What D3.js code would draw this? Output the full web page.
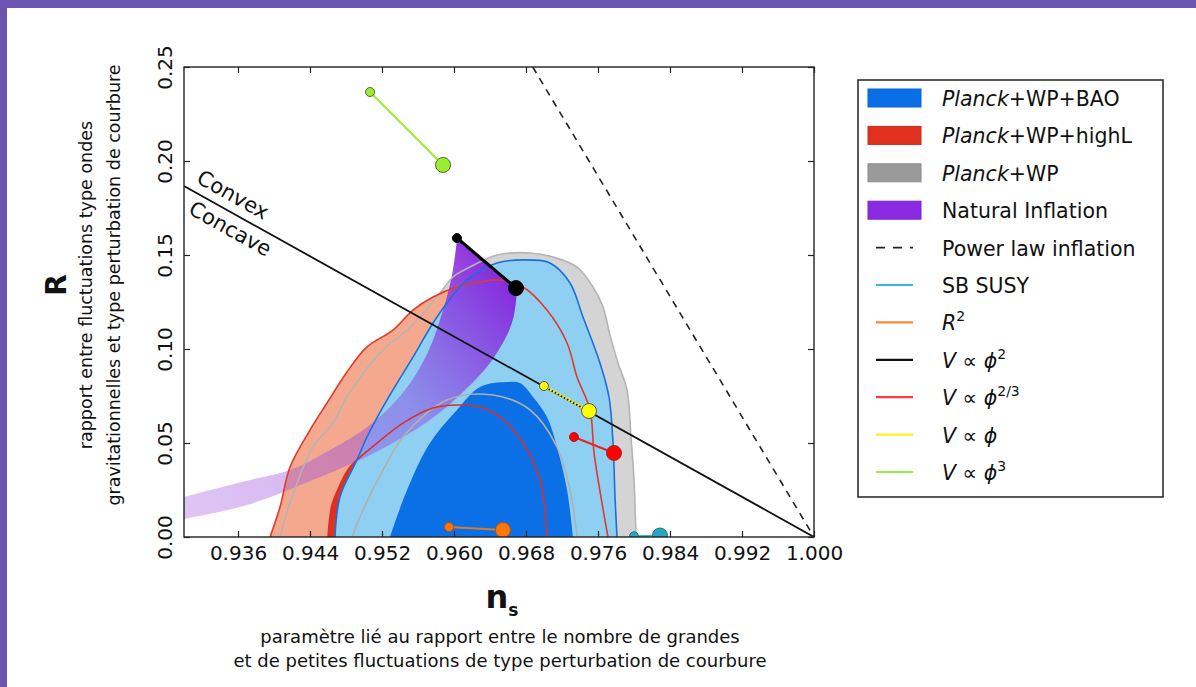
<!DOCTYPE html>
<html>
<head>
<meta charset="utf-8">
<script src="https://cdn.jsdelivr.net/npm/d3@7"></script>
<style>
body { margin: 0; background: #fff; }
svg { display: block; }
</style>
</head>
<body>
<script>
// values, as [n_s, r]
var xTicks = [0.936, 0.944, 0.952, 0.960, 0.968, 0.976, 0.984, 0.992, 1.000];
var yTicks = [0, 0.05, 0.10, 0.15, 0.20, 0.25];

var planckWP95 = [[0.94067, 0], [0.94178, 0.0181], [0.94433, 0.0479], [0.94656, 0.0606], [0.94811, 0.0745],
    [0.95178, 0.0979], [0.95478, 0.1101], [0.95622, 0.117], [0.95844, 0.1298], [0.95989, 0.1383],
    [0.96178, 0.1436], [0.96478, 0.150], [0.96844, 0.1511], [0.971, 0.1489], [0.97367, 0.1436],
    [0.97544, 0.133], [0.97656, 0.1223], [0.97733, 0.1074], [0.97822, 0.0926], [0.97922, 0.0782],
    [0.97967, 0.0532], [0.980, 0.0303], [0.98022, 0]];
var planckWP68 = [[0.94867, 0], [0.94989, 0.0144], [0.95211, 0.0356], [0.95433, 0.0532], [0.95922, 0.0729],
    [0.96433, 0.0755], [0.96844, 0.0676], [0.97144, 0.0479], [0.97289, 0.025], [0.97367, 0]];
var highL95 = [[0.93956, 0], [0.94067, 0.016], [0.94178, 0.0372], [0.944, 0.0569], [0.94589, 0.0713],
    [0.94811, 0.0878], [0.95033, 0.1011], [0.95322, 0.1101], [0.95544, 0.1207], [0.95767, 0.1277],
    [0.96033, 0.133], [0.96289, 0.1356], [0.96511, 0.1367], [0.96767, 0.133], [0.97033, 0.1207],
    [0.97256, 0.1032], [0.97367, 0.0851], [0.97511, 0.0676], [0.97556, 0.0447], [0.97644, 0.0181],
    [0.97711, 0]];
var highL68 = [[0.946, 0], [0.94644, 0.017], [0.94733, 0.0277], [0.94844, 0.0372], [0.95144, 0.0499],
    [0.95433, 0.0606], [0.95767, 0.0686], [0.96033, 0.0702], [0.96289, 0.0691], [0.96511, 0.0638],
    [0.96767, 0.050], [0.96956, 0.0303], [0.97033, 0]];
var bao95 = [[0.94678, 0], [0.94733, 0.0213], [0.94922, 0.041], [0.95033, 0.0532], [0.95256, 0.0729],
    [0.95544, 0.0957], [0.95767, 0.1138], [0.95922, 0.1245], [0.96144, 0.1367], [0.96478, 0.1457],
    [0.96878, 0.1473], [0.97067, 0.1457], [0.97289, 0.1351], [0.97433, 0.117], [0.97622, 0.0926],
    [0.97722, 0.0745], [0.97767, 0.050], [0.97789, 0.0213], [0.97811, 0]];
var bao68 = [[0.95289, 0], [0.95478, 0.025], [0.95733, 0.050], [0.96033, 0.0676], [0.96289, 0.0798],
    [0.96589, 0.0824], [0.96733, 0.0819], [0.96878, 0.0745], [0.97033, 0.0638], [0.97144, 0.0479],
    [0.97256, 0.025], [0.97322, 0]];
// natural inflation band: upper edge (left to top), lower edge (left to top)
var naturalUpper = [[0.930, 0.0213], [0.93733, 0.0303], [0.94178, 0.0356], [0.94622, 0.0463], [0.95067, 0.0596],
    [0.95456, 0.0782], [0.95711, 0.0984], [0.95878, 0.1207], [0.95978, 0.1394], [0.96033, 0.158]];
var naturalLower = [[0.930, 0.0096], [0.937, 0.017], [0.94433, 0.0303], [0.95178, 0.0463], [0.95733, 0.0622],
    [0.961, 0.0771], [0.964, 0.0926], [0.96589, 0.1074], [0.96667, 0.1181], [0.967, 0.1314]];

var convexLine = [[0.93, 0.18667], [1.0, 0]];
var powerLaw = [[0.96875, 0.25], [1.0, 0]];

// model predictions: [small point, big point]
var phi3Pts = [[0.95067, 0.2367], [0.95878, 0.1979]];
var phi2Pts = [[0.96033, 0.159], [0.96689, 0.1324]];
var phiPts = [[0.970, 0.0803], [0.975, 0.067]];
var phi23Pts = [[0.97333, 0.0532], [0.97778, 0.0447]];
var r2Pts = [[0.95944, 0.0053], [0.96544, 0.0037]];
var susyPts = [[0.9800, 0.0004], [0.98289, 0.0008]];

var W = 1196, H = 687;
var x = d3.scaleLinear().domain([0.93, 1.0]).range([184, 814]);
var y = d3.scaleLinear().domain([0, 0.25]).range([537, 67]);

var svg = d3.select("body").append("svg").attr("width", W).attr("height", H);
svg.append("rect").attr("width", W).attr("height", H).attr("fill", "#fff");
svg.append("rect").attr("width", W).attr("height", 8).attr("fill", "#6a55b0");
svg.append("rect").attr("width", 7).attr("height", H).attr("fill", "#6a55b0");

var defs = svg.append("defs");
defs.append("clipPath").attr("id", "plot")
    .append("rect").attr("x", x(0.93)).attr("y", y(0.25))
    .attr("width", x(1.0) - x(0.93)).attr("height", y(0) - y(0.25));
var grad = defs.append("linearGradient").attr("id", "natgrad")
    .attr("gradientUnits", "userSpaceOnUse")
    .attr("x1", x(0.93)).attr("y1", y(0.015))
    .attr("x2", x(0.964)).attr("y2", y(0.15));
grad.append("stop").attr("offset", 0).attr("stop-color", "#a55ae0").attr("stop-opacity", 0.35);
grad.append("stop").attr("offset", 0.6).attr("stop-color", "#8a40e0").attr("stop-opacity", 0.45);
grad.append("stop").attr("offset", 1).attr("stop-color", "#8420dc").attr("stop-opacity", 0.95);

var curve = d3.line().x(function (d) { return x(d[0]); }).y(function (d) { return y(d[1]); })
    .curve(d3.curveCatmullRom.alpha(0.5));
var straight = d3.line().x(function (d) { return x(d[0]); }).y(function (d) { return y(d[1]); });

var plot = svg.append("g").attr("clip-path", "url(#plot)");

// filled contours
plot.append("path").attr("d", curve(planckWP95) + "Z").attr("fill", "#d4d4d4");
plot.append("path").attr("d", curve(highL95) + "Z").attr("fill", "#f4a98f");
plot.append("path").attr("d", curve(highL68) + "Z").attr("fill", "#e0301e");
plot.append("path").attr("d", curve(bao95) + "Z").attr("fill", "#8fd0f2");
plot.append("path").attr("d", curve(bao68) + "Z").attr("fill", "#0b6fe6");

// natural inflation band
var upperPath = curve(naturalUpper);
var lowerPath = curve(naturalLower.slice().reverse());
plot.append("path")
    .attr("d", upperPath + "L" + lowerPath.slice(1) + "Z")
    .attr("fill", "url(#natgrad)");

// contour lines
plot.append("path").attr("d", curve(planckWP95)).attr("fill", "none").attr("stroke", "#b4b4b4").attr("stroke-width", 1.6);
plot.append("path").attr("d", curve(planckWP68)).attr("fill", "none").attr("stroke", "#b0b0b0").attr("stroke-width", 1.6);
plot.append("path").attr("d", curve(highL95)).attr("fill", "none").attr("stroke", "#e03a2a").attr("stroke-width", 1.6);
plot.append("path").attr("d", curve(highL68)).attr("fill", "none").attr("stroke", "#d8302a").attr("stroke-width", 1.6);
plot.append("path").attr("d", curve(bao95)).attr("fill", "none").attr("stroke", "#1a6fe0").attr("stroke-width", 1.6);

// convex / concave boundary and power law
plot.append("path").attr("d", straight(convexLine)).attr("stroke", "#111").attr("stroke-width", 1.8).attr("fill", "none");
plot.append("path").attr("d", straight(powerLaw)).attr("stroke", "#222").attr("stroke-width", 1.6)
    .attr("stroke-dasharray", "7,6").attr("fill", "none");

// model segments and points
function model(pts, lineColor, fill, width, dash, edge) {
    var l = plot.append("path").attr("d", straight(pts)).attr("stroke", lineColor)
        .attr("stroke-width", width).attr("fill", "none");
    if (dash) l.attr("stroke-dasharray", dash);
    plot.append("circle").attr("cx", x(pts[0][0])).attr("cy", y(pts[0][1])).attr("r", 4.5)
        .attr("fill", fill).attr("stroke", edge).attr("stroke-width", 1);
    plot.append("circle").attr("cx", x(pts[1][0])).attr("cy", y(pts[1][1])).attr("r", 7.5)
        .attr("fill", fill).attr("stroke", edge).attr("stroke-width", 1);
}
model(phi3Pts, "#99ee33", "#99ee33", 2, null, "#556633");
model(phi2Pts, "#000", "#000", 3.2, null, "#000");
model(phiPts, "#ffee00", "#ffff00", 3, "2,1.5", "#555");
model(phi23Pts, "#ee2222", "#ff0000", 2, null, "#aa2222");
model(r2Pts, "#dd7733", "#ff7700", 2, null, "#aa5522");
model(susyPts, "#33bbcc", "#22a8c0", 2, null, "#227788");

// convex / concave labels
var ang = Math.atan2(y(convexLine[1][1]) - y(convexLine[0][1]), x(convexLine[1][0]) - x(convexLine[0][0])) * 180 / Math.PI;
var lab = plot.append("g")
    .attr("transform", "translate(" + x(convexLine[0][0]) + "," + y(convexLine[0][1]) + ") rotate(" + ang + ")")
    .style("font-family", "'DejaVu Sans', sans-serif").style("font-size", "21px").attr("fill", "#111");
lab.append("text").attr("x", 8).attr("y", -9).text("Convex");
lab.append("text").attr("x", 16).attr("y", 22).text("Concave");

// axes: inward ticks on all four sides
var fontTick = "'DejaVu Sans', sans-serif";
var gx = svg.append("g").attr("transform", "translate(0," + y(0) + ")")
    .call(d3.axisBottom(x).tickValues(xTicks).tickSizeInner(-6).tickSizeOuter(0)
        .tickPadding(9).tickFormat(d3.format(".3f")));
var gxt = svg.append("g").attr("transform", "translate(0," + y(0.25) + ")")
    .call(d3.axisTop(x).tickValues(xTicks).tickSizeInner(-6).tickSizeOuter(0).tickFormat(""));
var gy = svg.append("g").attr("transform", "translate(" + x(0.93) + ",0)")
    .call(d3.axisLeft(y).tickValues(yTicks).tickSizeInner(-6).tickSizeOuter(0).tickFormat(d3.format(".2f")));
var gyr = svg.append("g").attr("transform", "translate(" + x(1.0) + ",0)")
    .call(d3.axisRight(y).tickValues(yTicks).tickSizeInner(-6).tickSizeOuter(0).tickFormat(""));
[gx, gxt, gy, gyr].forEach(function (g) {
    g.select(".domain").remove();
    g.selectAll(".tick line").attr("stroke", "#222").attr("stroke-width", 1.2);
    g.selectAll("text").style("font-family", fontTick).style("font-size", "20px").attr("fill", "#111");
});
gy.selectAll(".tick text")
    .attr("transform", "rotate(-90)")
    .attr("x", 0).attr("y", -12).attr("dy", 0)
    .attr("text-anchor", "middle");

svg.append("rect").attr("x", x(0.93)).attr("y", y(0.25))
    .attr("width", x(1.0) - x(0.93)).attr("height", y(0) - y(0.25))
    .attr("fill", "none").attr("stroke", "#222").attr("stroke-width", 1.4);

// axis titles
var fontLab = "'DejaVu Sans', sans-serif";
var yl = svg.append("g").attr("transform", "translate(0,285)").style("font-family", fontLab).attr("fill", "#111");
yl.append("text").attr("transform", "translate(66,0) rotate(-90)").attr("text-anchor", "middle")
    .style("font-size", "28px").style("font-weight", "bold").text("R");
yl.append("text").attr("transform", "translate(92,0) rotate(-90)").attr("text-anchor", "middle")
    .style("font-size", "17.5px").text("rapport entre fluctuations type ondes");
yl.append("text").attr("transform", "translate(120,0) rotate(-90)").attr("text-anchor", "middle")
    .style("font-size", "17.5px").text("gravitationnelles et type perturbation de courbure");

var xl = svg.append("g").style("font-family", fontLab).attr("fill", "#111");
var ns = xl.append("text").attr("x", 502).attr("y", 608).attr("text-anchor", "middle").style("font-weight", "bold");
ns.append("tspan").style("font-size", "32px").text("n");
ns.append("tspan").attr("dy", 8).style("font-size", "17px").text("s");
xl.append("text").attr("x", 500).attr("y", 643).attr("text-anchor", "middle").style("font-size", "18px")
    .text("paramètre lié au rapport entre le nombre de grandes");
xl.append("text").attr("x", 500).attr("y", 667).attr("text-anchor", "middle").style("font-size", "18px")
    .text("et de petites fluctuations de type perturbation de courbure");

// legend
var legendLabels = [
    [["Planck", "italic"], ["+WP+BAO", "normal"]],
    [["Planck", "italic"], ["+WP+highL", "normal"]],
    [["Planck", "italic"], ["+WP", "normal"]],
    [["Natural Inflation", "normal"]],
    [["Power law inflation", "normal"]],
    [["SB SUSY", "normal"]],
    [["R", "italic"], ["2", "sup"]],
    [["V", "italic"], [" \u221D ", "normal"], ["\u03D5", "italic"], ["2", "sup"]],
    [["V", "italic"], [" \u221D ", "normal"], ["\u03D5", "italic"], ["2/3", "sup"]],
    [["V", "italic"], [" \u221D ", "normal"], ["\u03D5", "italic"]],
    [["V", "italic"], [" \u221D ", "normal"], ["\u03D5", "italic"], ["3", "sup"]]
];
var legendKinds = ["patch", "patch", "patch", "patch", "dash", "line", "line", "line", "line", "line", "line"];
var legendColors = ["#0a6ee6", "#e0301e", "#9a9a9a", "#8a2be2", "#222", "#33bbdd", "#ff8833", "#111", "#ff3b3b", "#ffee22", "#99ee44"];

var leg = svg.append("g");
leg.append("rect").attr("x", 858).attr("y", 80).attr("width", 305).attr("height", 417)
    .attr("fill", "#fff").attr("stroke", "#222").attr("stroke-width", 1.5);
var rowY = d3.scaleLinear().domain([0, legendLabels.length - 1]).range([98, 472]);
legendLabels.forEach(function (parts, i) {
    var cy = rowY(i);
    if (legendKinds[i] === "patch") {
        leg.append("rect").attr("x", 868).attr("y", cy - 9).attr("width", 53).attr("height", 18)
            .attr("fill", legendColors[i]).attr("stroke", d3.color(legendColors[i]).darker(0.3)).attr("stroke-width", 1);
    } else {
        var l = leg.append("line").attr("x1", 876).attr("x2", 913).attr("y1", cy).attr("y2", cy)
            .attr("stroke", legendColors[i]).attr("stroke-width", legendKinds[i] === "dash" ? 1.6 : 2.2);
        if (legendKinds[i] === "dash") l.attr("stroke-dasharray", "9,8");
    }
    var t = leg.append("text").attr("x", 942).attr("y", cy + 8)
        .style("font-family", fontTick).style("font-size", "20.5px").attr("fill", "#111");
    parts.forEach(function (p) {
        var s = t.append("tspan").text(p[0]);
        if (p[1] === "italic") s.style("font-style", "italic");
        if (p[1] === "sup") s.attr("dy", -9).style("font-size", "14px");
    });
});
</script>
</body>
</html>
